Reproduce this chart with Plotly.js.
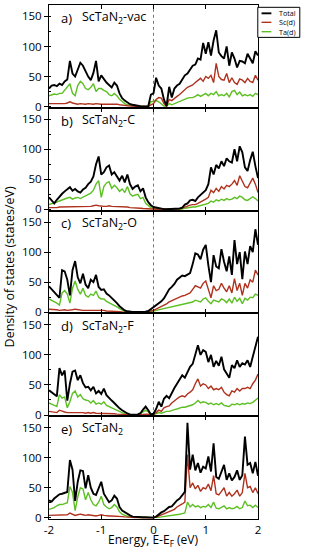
<!DOCTYPE html>
<html>
<head>
<meta charset="utf-8">
<script src="https://cdn.plot.ly/plotly-3.0.1.min.js"></script>
<style>html,body{margin:0;padding:0;background:#fff;}#chart{width:313px;height:550px;}</style>
</head>
<body>
<div id="chart"></div>
<script>
const energy = [-2,-1.95,-1.9,-1.85,-1.8,-1.75,-1.7,-1.65,-1.6,-1.55,-1.5,-1.45,-1.4,-1.35,-1.3,-1.25,-1.2,-1.15,-1.1,-1.05,
  -1,-0.95,-0.9,-0.85,-0.8,-0.75,-0.7,-0.65,-0.6,-0.55,-0.5,-0.45,-0.4,-0.35,-0.3,-0.25,-0.2,-0.15,-0.1,-0.05,
  0,0.05,0.1,0.15,0.2,0.25,0.3,0.35,0.4,0.45,0.5,0.55,0.6,0.65,0.7,0.75,0.8,0.85,0.9,0.95,
  1,1.05,1.1,1.15,1.2,1.25,1.3,1.35,1.4,1.45,1.5,1.55,1.6,1.65,1.7,1.75,1.8,1.85,1.9,1.95,2];

const seriesNames = ['Total', 'Sc(d)', 'Ta(d)'];
const seriesColors = ['#000000', '#b0321e', '#5cbf22'];
const panelLetters = ['a)', 'b)', 'c)', 'd)', 'e)'];
const panelNames = ['ScTaN<sub>2</sub>-vac', 'ScTaN<sub>2</sub>-C', 'ScTaN<sub>2</sub>-O', 'ScTaN<sub>2</sub>-F', 'ScTaN<sub>2</sub>'];

// a) ScTaN2-vac
const totalA = [30,35,36,34,38,36,42,45,76,55, 50,62,73,68,58,50,44,56,76,42, 52,45,40,36,32,40,35,22,14,10, 7,4,3,2,1,0.5,0.3,0.3,0.5,20,
  22,48,35,30,12,1,33,15,30,35, 38,45,52,55,62,68,70,80,78,106, 88,107,85,110,127,90,84,80,100,68, 90,80,65,76,75,72,88,80,72,92, 85];
const scA = [5,5,4,4,5,4,5,6,8,6, 5,4,5,4,4,5,4,4,5,4, 4,4,4,4,4,5,4,3,2,2, 1.5,1,0.8,0.5,0.3,0.2,0.2,0.2,0.3,3,
  5,12,15,14,5,1,12,10,14,17, 20,24,28,32,34,36,40,44,47,42, 50,47,52,40,72,50,45,44,55,40, 48,40,37,46,44,40,47,42,40,52, 44];
const taA = [18,20,21,20,22,22,28,32,38,22, 18,35,42,38,30,28,32,38,25,30, 30,27,25,20,18,22,18,12,8,5, 3,2,1,0.5,0.3,0.2,0.2,0.2,0.3,8,
  9,10,8,5,1,0.5,5,3,5,7, 8,10,12,14,15,15,17,20,17,20, 22,18,22,20,25,18,20,18,22,16, 25,27,20,24,18,20,18,20,17,22, 20];

// b) ScTaN2-C
const totalB = [20,15,10,16,22,26,30,34,37,31, 34,30,28,33,36,42,46,55,75,88, 58,62,70,73,58,62,56,48,56,45, 58,42,34,38,40,30,35,20,12,7,
  4,3,2,1,0.5,0.3,0.3,0.3,0.5,1, 1.5,3,8,10,15,16,14,20,24,27, 32,42,70,58,74,68,80,72,85,80, 78,100,80,105,95,70,64,82,96,72, 52];
const scB = [3,3,2,3,4,4,5,5,4,4, 5,4,4,5,5,4,5,6,7,6, 5,5,5,6,5,5,5,4,5,4, 4,3,3,3,2,2,1.5,1,0.5,0.3,
  0.2,0.2,0.2,0.2,0.2,0.2,0.2,0.2,0.3,0.5, 1,2,4,5,7,8,8,10,12,14, 17,20,32,28,35,30,38,34,40,38, 42,48,40,56,46,38,36,44,52,42, 28];
const taB = [8,9,10,12,14,16,18,19,20,17, 19,20,18,20,22,25,27,32,42,48, 20,38,44,46,35,40,36,30,34,28, 38,26,22,24,25,18,20,10,6,3,
  1.5,1,0.5,0.2,0.2,0.2,0.2,0.2,0.2,0.2, 0.3,0.5,2,3,4,4,4,5,6,7, 8,10,14,12,16,14,17,15,18,16, 17,20,18,22,20,16,15,18,21,18, 14];

// c) ScTaN2-O
const totalC = [43,38,34,28,24,70,68,54,28,70, 85,58,48,64,46,40,54,50,62,42, 37,38,31,28,24,20,15,10,6,3, 1.5,0.5,0.3,0.3,0.3,0.3,0.5,1,2,5,
  8,11,15,18,23,30,38,42,47,54, 58,61,60,63,65,80,98,96,88,104, 112,78,50,95,76,73,105,84,68,93, 62,120,80,100,55,101,80,110,100,138, 112];
const scC = [5,5,4,4,3,4,4,3,3,4, 5,4,4,3,3,3,3,4,3,3, 3,3,2,2,2,2,1.5,1,0.5,0.3, 0.2,0.2,0.2,0.2,0.2,0.2,0.3,0.5,1,2,
  3,5,7,9,11,14,17,19,21,24, 26,27,28,30,32,38,44,42,40,48, 52,38,24,44,36,38,48,40,34,44, 32,56,36,48,28,48,40,54,50,70, 62];
const taC = [22,20,18,15,12,32,36,30,15,40, 52,38,30,40,28,25,30,28,35,25, 22,22,18,16,14,12,9,6,3,1.5, 0.5,0.3,0.3,0.3,0.3,0.3,0.3,0.5,0.8,1,
  2,3,4,5,6,7,8,9,10,11, 12,13,13,14,15,17,20,19,17,22, 24,18,14,20,18,17,22,20,16,22, 15,25,18,23,14,23,20,25,24,30, 28];

// d) ScTaN2-F
const totalD = [41,38,34,31,78,66,74,24,52,72, 74,58,66,53,46,47,41,47,36,40, 35,44,33,28,24,20,15,11,8,5, 2.5,1,0.5,0.5,1,3,9,14,8,1,
  2,10,22,14,27,32,28,37,45,52, 58,66,62,70,80,85,102,116,100,108, 105,88,100,80,90,82,97,76,69,62, 83,78,91,80,86,84,91,80,97,112, 130];
const scD = [6,5,5,4,8,6,5,4,4,5, 5,4,4,4,3,4,3,4,3,3, 3,3,3,2,2,2,1.5,1,0.8,0.5, 0.3,0.2,0.2,0.2,0.3,0.5,1,1.5,1,0.5,
  1,4,8,6,12,14,15,20,24,27, 30,32,30,35,38,42,52,60,48,52, 50,44,48,42,44,42,46,38,34,32, 40,38,44,40,44,44,46,44,52,58, 68];
const taD = [20,18,16,14,34,28,30,12,22,36, 40,30,34,27,25,24,20,24,18,20, 18,22,16,14,12,10,7,5,3,2, 1,0.5,0.3,0.3,0.5,2,5,8,5,1,
  0.5,2,4,3,5,6,6,8,9,10, 12,13,13,14,15,17,20,24,20,22, 21,18,20,17,19,17,20,16,15,14, 18,17,19,17,19,18,20,19,21,24, 28];

// e) ScTaN2
const totalE = [29,27,32,36,39,40,42,43,96,80, 28,60,79,78,49,71,50,40,38,49, 60,40,32,26,29,37,32,18,12,9, 6,4,2,1.5,1,1,0.8,0.8,0.5,0.5,
  0.3,2,6,9,11,14,18,19,24,29, 32,37,43,158,80,105,79,91,75,85, 82,102,77,124,68,65,77,88,63,74, 62,68,79,63,71,135,88,91,74,93, 70];
const scE = [4,4,5,5,5,4,5,5,8,6, 4,5,6,5,4,5,4,3,3,4, 5,4,3,3,3,3,3,2,2,1.5, 1,0.8,0.5,0.3,0.3,0.2,0.2,0.2,0.2,0.2,
  0,1,3,5,6,8,10,12,14,18, 20,23,26,105,50,58,48,54,44,50, 48,56,45,70,40,38,44,50,36,42, 36,40,46,36,42,74,50,52,42,50, 40];
const taE = [14,15,17,20,22,22,24,25,52,42, 12,35,50,48,30,42,30,22,20,26, 36,22,18,15,17,22,18,10,6,4, 2.5,1.5,1,0.5,0.5,0.5,0.5,0.5,0.3,0.3,
  0.2,0.5,1,1.5,2,2.5,3,4,4,5, 6,7,8,26,18,22,18,20,17,19, 18,22,17,26,16,15,17,20,15,17, 15,16,19,15,17,28,20,21,17,21, 17];

const yTicks = [0, 50, 100, 150];
const xTicks = [-2, -1, 0, 1, 2];

const panelData = [
  [totalA, scA, taA],
  [totalB, scB, taB],
  [totalC, scC, taC],
  [totalD, scD, taD],
  [totalE, scE, taE]
];

const FONT = '"Open Sans", "Noto Sans", sans-serif';
const TICKSIZE = 11.5;
const traces = [];
const layout = {
  width: 313, height: 550,
  margin: {l: 49, r: 55, t: 5, b: 31, pad: 0},
  paper_bgcolor: '#fff', plot_bgcolor: '#fff',
  showlegend: false,
  font: {family: FONT, size: 12, color: '#000'},
  shapes: [], annotations: []
};

const n = panelData.length;
const h = 1 / n;
panelData.forEach((series, i) => {
  const k = i + 1;
  const xs = k === 1 ? 'x' : 'x' + k;
  const ys = k === 1 ? 'y' : 'y' + k;
  [2, 1, 0].forEach(j => {
    traces.push({
      type: 'scatter', mode: 'lines',
      x: energy, y: series[j],
      name: seriesNames[j],
      xaxis: xs, yaxis: ys,
      line: {color: seriesColors[j], width: j === 0 ? 1.9 : 1.4},
      showlegend: false,
      hoverinfo: 'skip'
    });
  });
  const top = 1 - i * h, bot = 1 - (i + 1) * h;
  layout['yaxis' + (k === 1 ? '' : k)] = {
    domain: [bot, top], anchor: xs,
    range: [-2, 169], tickvals: yTicks, ticktext: yTicks.map(String),
    ticks: 'outside', ticklen: 4, tickwidth: 1, tickcolor: '#000',
    minor: {dtick: 25, tick0: 0, ticks: 'inside', ticklen: 2, tickcolor: '#000'},
    showline: true, linecolor: '#000', linewidth: 1, mirror: true,
    showgrid: false, zeroline: false, fixedrange: true,
    tickfont: {family: FONT, size: TICKSIZE, color: '#000'}
  };
  layout['xaxis' + (k === 1 ? '' : k)] = {
    domain: [0, 1], anchor: ys,
    range: [-2, 2], tickvals: xTicks, ticktext: xTicks.map(String),
    ticks: 'inside', ticklen: 4, tickwidth: 1, tickcolor: '#000',
    showline: true, linecolor: '#000', linewidth: 1, mirror: 'ticks',
    showgrid: false, zeroline: false, fixedrange: true,
    showticklabels: k === n,
    tickfont: {family: FONT, size: TICKSIZE, color: '#000'}
  };
  layout.shapes.push({
    type: 'line', xref: xs, yref: ys + ' domain', x0: 0, x1: 0, y0: 0, y1: 1,
    line: {color: '#777', width: 1, dash: 'dot'}, layer: 'below'
  });
  layout.annotations.push({
    xref: xs + ' domain', yref: ys + ' domain', x: 0.048, y: 0.876,
    xanchor: 'left', yanchor: 'middle', showarrow: false,
    text: panelLetters[i], font: {family: FONT, size: 13, color: '#000'}
  });
  layout.annotations.push({
    xref: xs + ' domain', yref: ys + ' domain', x: 0.148, y: 0.876,
    xanchor: 'left', yanchor: 'middle', showarrow: false,
    text: panelNames[i], font: {family: FONT, size: 12.5, color: '#000'}
  });
});

// Axis titles
layout.annotations.push({
  xref: 'paper', yref: 'paper', x: 0.5, y: -0.041, xanchor: 'center', yanchor: 'middle', showarrow: false,
  borderpad: 0,
  text: 'Energy, E-E<sub>F</sub> (eV)', font: {family: FONT, size: 12, color: '#000'}
});
layout.annotations.push({
  xref: 'paper', yref: 'paper', x: -0.19, y: 0.49, xanchor: 'center', yanchor: 'middle', showarrow: false,
  textangle: -90, text: 'Density of states (states/eV)', font: {family: FONT, size: 12.5, color: '#000'}
});

// Legend box (top-right of panel a)
const lgX0 = 0.999, lgX1 = 1.2, lgY0 = 0.937, lgY1 = 0.9955;
layout.shapes.push({type: 'rect', xref: 'paper', yref: 'paper', x0: lgX0, x1: lgX1, y0: lgY0, y1: lgY1,
  line: {color: '#000', width: 1}, fillcolor: '#fff', layer: 'above'});
const lgRows = [0.9838, 0.9663, 0.9481];
seriesNames.forEach((nm, j) => {
  layout.shapes.push({type: 'line', xref: 'paper', yref: 'paper', x0: 1.017, x1: 1.064, y0: lgRows[j], y1: lgRows[j],
    line: {color: seriesColors[j], width: j === 0 ? 1.9 : 1.4}, layer: 'above'});
});
layout.annotations.push({xref: 'paper', yref: 'paper', x: 1.095, y: lgRows[1], xanchor: 'left', yanchor: 'middle',
  align: 'left', showarrow: false, borderpad: 0,
  text: seriesNames.join('<br>'), font: {family: FONT, size: 7.2, color: '#000'}});

Plotly.newPlot('chart', traces, layout, {staticPlot: true, displayModeBar: false});
</script>
</body>
</html>
